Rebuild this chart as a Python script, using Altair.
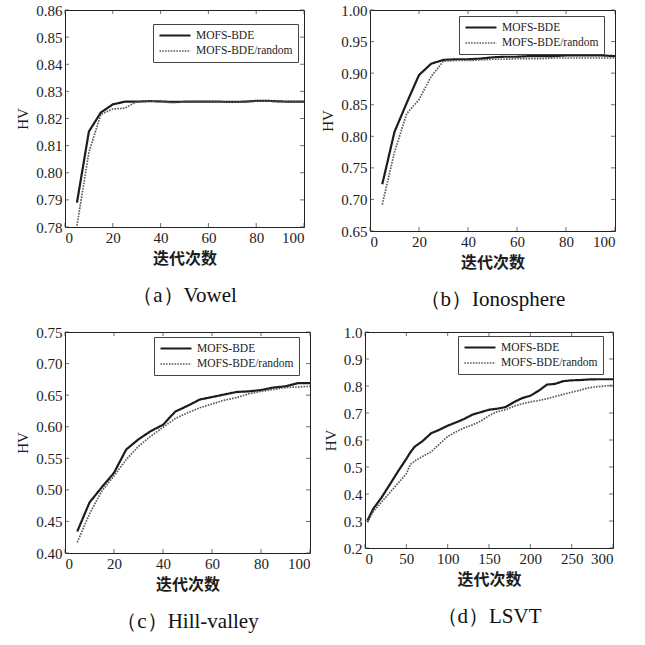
import altair as alt
import pandas as pd

SERIES = ["MOFS-BDE", "MOFS-BDE/random"]

# ---- (a) Vowel ----
vowel_iter = [5, 10, 15, 20, 25, 30, 35, 40, 45, 50, 55, 60, 65, 70, 75, 80, 85, 90, 95, 100]
vowel_bde = [0.7890, 0.8152, 0.8222, 0.8252, 0.8262, 0.8262, 0.8264, 0.8263, 0.8261, 0.8262,
             0.8262, 0.8262, 0.8262, 0.8261, 0.8262, 0.8265, 0.8265, 0.8263, 0.8262, 0.8262]
vowel_rand = [0.7805, 0.8075, 0.8215, 0.8235, 0.8238, 0.8262, 0.8265, 0.8262, 0.8258, 0.8261,
              0.8262, 0.8262, 0.8261, 0.8260, 0.8261, 0.8264, 0.8264, 0.8262, 0.8261, 0.8261]

# ---- (b) Ionosphere ----
iono_iter = vowel_iter
iono_bde = [0.724, 0.807, 0.853, 0.897, 0.915, 0.921, 0.922, 0.922, 0.923, 0.925,
            0.926, 0.926, 0.927, 0.927, 0.927, 0.928, 0.928, 0.928, 0.928, 0.927]
iono_rand = [0.692, 0.775, 0.836, 0.858, 0.895, 0.919, 0.920, 0.920, 0.921, 0.922,
             0.922, 0.923, 0.923, 0.923, 0.924, 0.924, 0.924, 0.924, 0.924, 0.924]

# ---- (c) Hill-valley ----
hill_iter = vowel_iter
hill_bde = [0.434, 0.480, 0.504, 0.527, 0.564, 0.580, 0.593, 0.603, 0.624, 0.633,
            0.643, 0.647, 0.651, 0.655, 0.656, 0.658, 0.662, 0.664, 0.669, 0.669]
hill_rand = [0.417, 0.462, 0.498, 0.522, 0.548, 0.569, 0.585, 0.599, 0.613, 0.622,
             0.630, 0.636, 0.642, 0.646, 0.652, 0.656, 0.659, 0.662, 0.663, 0.664]

# ---- (d) LSVT ----
lsvt_iter = [3, 10, 20, 30, 40, 50, 55, 60, 70, 80, 90, 100, 110, 120, 130, 140, 150, 160,
             170, 180, 190, 200, 210, 220, 230, 240, 250, 260, 270, 280, 290, 300]
lsvt_bde = [0.302, 0.345, 0.387, 0.435, 0.484, 0.530, 0.555, 0.575, 0.597, 0.625, 0.638, 0.653,
            0.665, 0.678, 0.694, 0.703, 0.712, 0.716, 0.722, 0.740, 0.755, 0.764, 0.782, 0.805,
            0.808, 0.818, 0.821, 0.822, 0.824, 0.825, 0.825, 0.825]
lsvt_rand = [0.295, 0.335, 0.370, 0.405, 0.440, 0.475, 0.510, 0.522, 0.540, 0.556, 0.585, 0.613,
             0.630, 0.645, 0.656, 0.670, 0.690, 0.705, 0.712, 0.725, 0.734, 0.741, 0.746, 0.753,
             0.761, 0.769, 0.777, 0.784, 0.793, 0.797, 0.800, 0.803]

ticks_100 = [0, 20, 40, 60, 80, 100]
ticks_300 = [0, 50, 100, 150, 200, 250, 300]

SERIF = "Liberation Serif, Times New Roman, serif"
CJK = "Noto Sans CJK SC"
INK = "#1c1c1c"

# legend key: a 31px horizontal stroke drawn from a small symbol size,
# so that the legend rows stay as tall as the labels
KEY_PATH = "M-1,0H5.2"


def panel(it, bde, rand, xdom, ydom, xticks, yticks, yfmt, caption, w, h, lx, ly):
    df = pd.DataFrame({
        "iter": list(it) * 2,
        "hv": list(bde) + list(rand),
        "series": [SERIES[0]] * len(it) + [SERIES[1]] * len(it),
    })
    xs = alt.Scale(domain=xdom, nice=False, zero=False)
    ys = alt.Scale(domain=ydom, nice=False, zero=False)
    xaxis = alt.Axis(values=xticks, title="迭代次数", format="d",
                     titleFont=CJK, titleFontWeight="bold", titleFontSize=16, titlePadding=5)
    yaxis = alt.Axis(values=yticks, title="HV", format=yfmt,
                     titleFont=SERIF, titleFontWeight="normal", titleFontSize=15, titlePadding=5)
    leg = alt.Legend(
        title=None, orient="none", legendX=lx, legendY=ly,
        symbolType=KEY_PATH, symbolSize=100, labelFont=SERIF, labelFontSize=11.5,
        labelColor=INK, fillColor="white", strokeColor="#444", padding=5,
        rowPadding=4, labelOffset=25, labelLimit=200,
    )
    lines = alt.Chart(df).mark_line(clip=True).encode(
        x=alt.X("iter:Q", scale=xs, axis=xaxis),
        y=alt.Y("hv:Q", scale=ys, axis=yaxis),
        color=alt.Color("series:N", scale=alt.Scale(domain=SERIES, range=[INK, "#5a5a5a"]), legend=leg),
        strokeDash=alt.StrokeDash("series:N", scale=alt.Scale(domain=SERIES, range=[[1, 0], [1.6, 1.2]]), legend=leg),
        strokeWidth=alt.StrokeWidth("series:N", scale=alt.Scale(domain=SERIES, range=[2.2, 1.7]), legend=leg),
    )

    # small inward ticks on all four sides of the frame
    tx = pd.DataFrame({"v": xticks})
    ty = pd.DataFrame({"v": yticks})
    tick_style = dict(color="#333", thickness=1, size=4)
    bottom = alt.Chart(tx).mark_tick(orient="vertical", yOffset=-2, **tick_style).encode(
        x=alt.X("v:Q", scale=xs, axis=xaxis), y=alt.YDatum(ydom[0], scale=ys, axis=yaxis))
    top = alt.Chart(tx).mark_tick(orient="vertical", yOffset=2, **tick_style).encode(
        x=alt.X("v:Q", scale=xs, axis=xaxis), y=alt.YDatum(ydom[1], scale=ys, axis=yaxis))
    left = alt.Chart(ty).mark_tick(orient="horizontal", xOffset=2, **tick_style).encode(
        y=alt.Y("v:Q", scale=ys, axis=yaxis), x=alt.XDatum(xdom[0], scale=xs, axis=xaxis))
    right = alt.Chart(ty).mark_tick(orient="horizontal", xOffset=-2, **tick_style).encode(
        y=alt.Y("v:Q", scale=ys, axis=yaxis), x=alt.XDatum(xdom[1], scale=xs, axis=xaxis))

    return alt.layer(lines, bottom, top, left, right).properties(
        width=w, height=h,
        title=alt.TitleParams(caption, orient="bottom", anchor="middle", frame="group",
                              font=SERIF, fontSize=21, fontWeight="normal",
                              color="#111", offset=19),
    )


pa = panel(vowel_iter, vowel_bde, vowel_rand, [0, 100], [0.78, 0.86], ticks_100,
           [0.78, 0.79, 0.80, 0.81, 0.82, 0.83, 0.84, 0.85, 0.86], ".2f",
           "（a）Vowel", 239, 217, 88, 14)
pb = panel(iono_iter, iono_bde, iono_rand, [0, 100], [0.65, 1.0], ticks_100,
           [0.65, 0.70, 0.75, 0.80, 0.85, 0.90, 0.95, 1.00], ".2f",
           "（b）Ionosphere", 245, 221, 89, 6)
pc = panel(hill_iter, hill_bde, hill_rand, [0, 100], [0.40, 0.75], ticks_100,
           [0.40, 0.45, 0.50, 0.55, 0.60, 0.65, 0.70, 0.75], ".2f",
           "（c）Hill-valley", 245, 221, 89, 5)
pd_ = panel(lsvt_iter, lsvt_bde, lsvt_rand, [0, 300], [0.2, 1.0], ticks_300,
            [0.2, 0.3, 0.4, 0.5, 0.6, 0.7, 0.8, 0.9, 1.0], ".1f",
            "（d）LSVT", 248, 216, 93, 4)

indep = dict(color="independent", strokeDash="independent", strokeWidth="independent",
             x="independent", y="independent")
indep_leg = dict(color="independent", strokeDash="independent", strokeWidth="independent")

row1 = alt.hconcat(pa, pb, spacing=15).resolve_scale(**indep).resolve_legend(**indep_leg)
row2 = alt.hconcat(pc, pd_, spacing=11).resolve_scale(**indep).resolve_legend(**indep_leg)

chart = alt.vconcat(row1, row2, spacing=13).resolve_scale(**indep).resolve_legend(
    **indep_leg
).properties(
    padding={"left": 15, "top": 2, "right": 0, "bottom": 0},
    background="white",
).configure_view(
    stroke="#222", strokeWidth=1,
).configure_axis(
    domain=False, ticks=False, grid=False,
    labelFont=SERIF, labelFontSize=15, labelColor=INK, titleColor=INK,
    labelPadding=3,
).configure_title(
    font=SERIF, fontWeight="normal",
)

chart.save("out.html", embed_options={"renderer": "svg", "actions": False})
